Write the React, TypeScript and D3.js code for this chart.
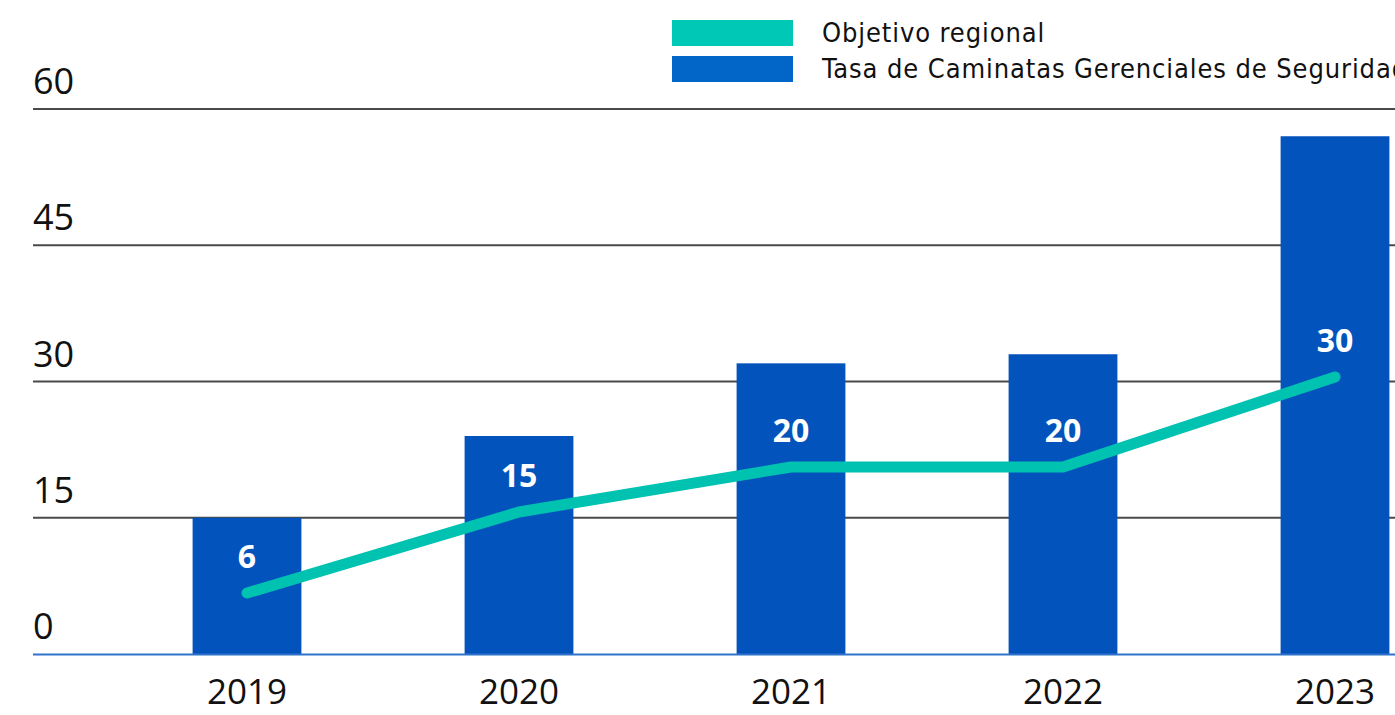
import React, { useEffect, useRef } from 'react'
import * as d3 from 'd3'

// data
const years = ['2019', '2020', '2021', '2022', '2023']
const tasaCaminatas = [15, 24, 32, 33, 57]
const objetivoRegional = [6, 15, 20, 20, 30]
const yTicks = [0, 15, 30, 45, 60]
const legendLabels = ['Objetivo regional', 'Tasa de Caminatas Gerenciales de Seguridad']

const BAR_COLOR = '#0353bc'
const LINE_COLOR = '#00c2b0'
const LEGEND_TEAL = '#00c8b6'
const LEGEND_BLUE = '#0265c8'

function App () {
  const ref = useRef<SVGSVGElement | null>(null)

  useEffect(() => {
    const width = 1395
    const height = 715
    const svg = d3.select(ref.current)
    svg.selectAll('*').remove()
    svg.attr('width', width).attr('height', height)

    const x = d3.scaleBand()
      .domain(years)
      .range([111, 1471])
      .paddingInner(0.6)
      .paddingOuter(0.3)

    const y = d3.scaleLinear().domain([0, 60]).range([654, 109])
    // the target line sits a few px above the bar axis in the original
    const yLine = d3.scaleLinear().domain([0, 60]).range([647, 107])

    const axisFont = "'Open Sans', sans-serif"

    // gridlines + tick labels
    const grid = svg.append('g')
    grid.selectAll('line')
      .data(yTicks.filter(t => t > 0))
      .enter()
      .append('line')
      .attr('x1', 33)
      .attr('x2', width)
      .attr('y1', d => y(d))
      .attr('y2', d => y(d))
      .attr('stroke', '#4a4a4a')
      .attr('stroke-width', 2)

    grid.selectAll('text')
      .data(yTicks)
      .enter()
      .append('text')
      .attr('x', 33)
      .attr('y', d => y(d) - 15)
      .attr('font-family', axisFont)
      .attr('font-weight', 400)
      .attr('font-size', 36)
      .attr('fill', '#111')
      .text(d => d)

    // bars
    svg.append('g')
      .selectAll('rect')
      .data(tasaCaminatas)
      .enter()
      .append('rect')
      .attr('x', (d, i) => x(years[i]) as number)
      .attr('y', d => y(d))
      .attr('width', x.bandwidth())
      .attr('height', d => y(0) - y(d))
      .attr('fill', BAR_COLOR)

    // baseline
    svg.append('line')
      .attr('x1', 33)
      .attr('x2', width)
      .attr('y1', y(0) + 0.5)
      .attr('y2', y(0) + 0.5)
      .attr('stroke', '#2f73cc')
      .attr('stroke-width', 2)

    // x labels
    svg.append('g')
      .selectAll('text')
      .data(years)
      .enter()
      .append('text')
      .attr('x', d => (x(d) as number) + x.bandwidth() / 2)
      .attr('y', 704)
      .attr('text-anchor', 'middle')
      .attr('font-family', axisFont)
      .attr('font-weight', 400)
      .attr('font-size', 35)
      .attr('fill', '#111')
      .text(d => d)

    // objetivo line
    const line = d3.line<number>()
      .x((d, i) => (x(years[i]) as number) + x.bandwidth() / 2)
      .y(d => yLine(d))

    svg.append('path')
      .datum(objetivoRegional)
      .attr('fill', 'none')
      .attr('stroke', LINE_COLOR)
      .attr('stroke-width', 11)
      .attr('stroke-linecap', 'round')
      .attr('stroke-linejoin', 'round')
      .attr('d', line)

    // line value labels
    svg.append('g')
      .selectAll('text')
      .data(objetivoRegional)
      .enter()
      .append('text')
      .attr('x', (d, i) => (x(years[i]) as number) + x.bandwidth() / 2)
      .attr('y', d => yLine(d) - 25)
      .attr('text-anchor', 'middle')
      .attr('font-family', axisFont)
      .attr('font-weight', 700)
      .attr('font-size', 32)
      .attr('fill', '#fff')
      .text(d => d)

    // legend
    const legend = svg.append('g')
    const colors = [LEGEND_TEAL, LEGEND_BLUE]
    legendLabels.forEach((label, i) => {
      legend.append('rect')
        .attr('x', 672)
        .attr('y', 20 + i * 36)
        .attr('width', 121)
        .attr('height', 26)
        .attr('fill', colors[i])
      legend.append('text')
        .attr('x', 822)
        .attr('y', 42 + i * 36)
        .attr('font-family', "'DejaVu Sans Condensed', sans-serif")
        .attr('font-size', 27)
        .attr('letter-spacing', 0.9)
        .attr('fill', '#111')
        .text(label)
    })
  }, [])

  return <svg ref={ref} style={{ position: 'absolute', left: 0, top: 0 }} />
}

export default App
